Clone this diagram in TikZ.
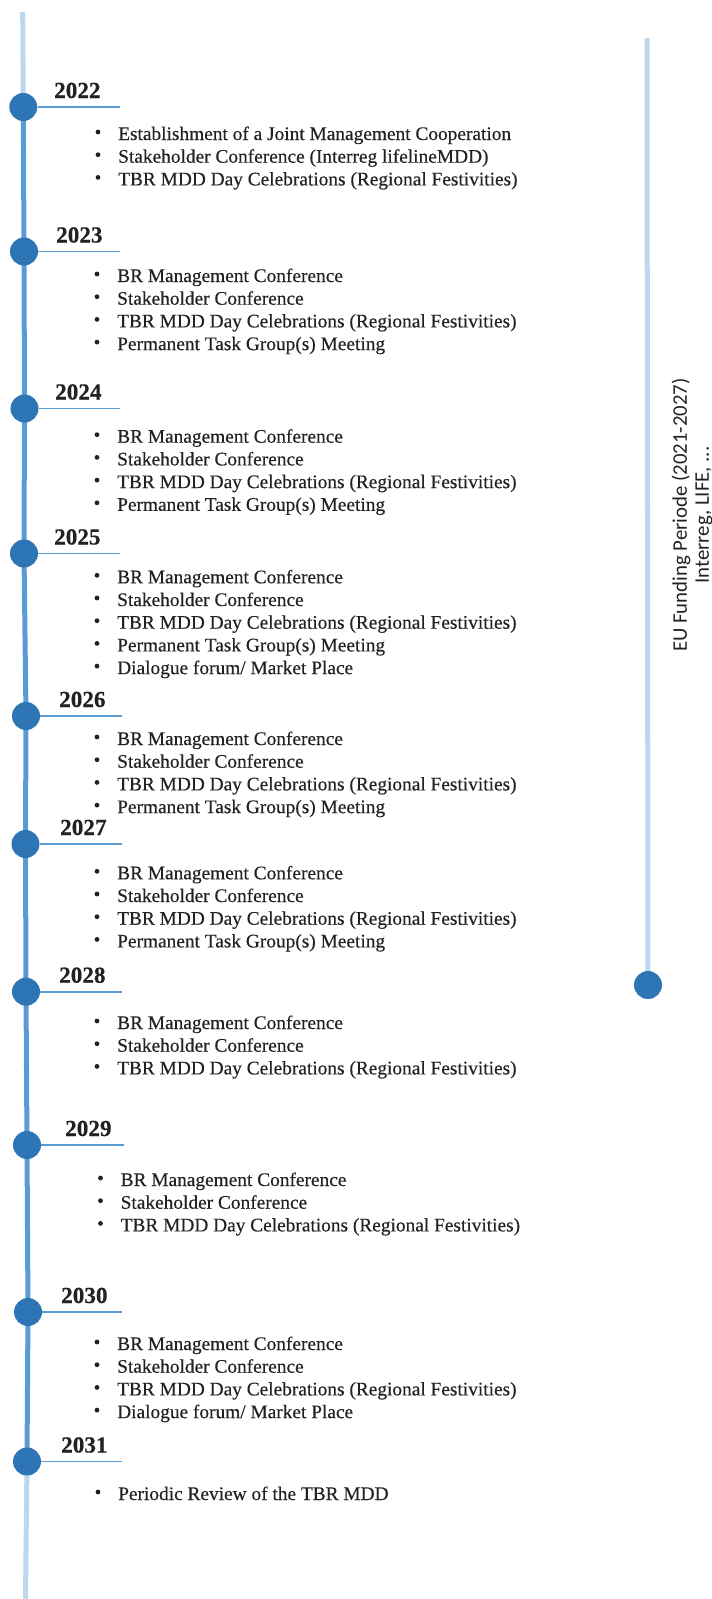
\documentclass[tikz,border=0pt]{standalone}
\usepackage{fontspec}
\setmainfont{Liberation Serif}[FakeStretch=1.008,FakeBold=0.4]
\newfontfamily\sidefont{Carlito}
\usetikzlibrary{backgrounds}
\definecolor{tlLight}{HTML}{BDD7EE}
\definecolor{tlMid}{HTML}{5B9BD5}
\definecolor{tlDark}{HTML}{2E75B6}
\definecolor{txt}{HTML}{222222}
\tikzset{
  dot/.style={circle, fill=tlDark, minimum size=28pt, inner sep=0pt},
  yearlbl/.style={anchor=base west, inner sep=0pt, font=\fontsize{23}{25}\selectfont\bfseries, text=txt},
  itemlbl/.style={anchor=base west, inner sep=0pt, font=\fontsize{19.2}{22.7}\selectfont, text=txt},
  tick/.style={draw=tlMid, line width=1.6pt},
  spine/.style={line width=5pt},
  bulletdot/.style={fill=txt},
}
% #1 year, #2 cx, #3 cy, #4 year x, #5 tick end x, #6 text x, #7 first baseline, #8 items
\newcommand\tlentry[8]{%
  \node[dot] (c#1) at (#2,#3) {};
  \coordinate (e#1) at (#5,#3);
  \draw[tick] (c#1.east) -- (e#1);
  \node[yearlbl] (y#1) at (#4,#3-9) {#1};
  \foreach \t [count=\i from 0] in {#8} {
    \fill[bulletdot] (#6-20,#7+\i*22.7-8) circle (2.4pt);
    \node[itemlbl] (i#1-\i) at (#6,#7+\i*22.7) {\t};
  }
}
\begin{document}
\begin{tikzpicture}[x=1pt,y=-1pt]
\useasboundingbox (0,0) rectangle (712,1599);
\coordinate (top) at (22.7,12);
\coordinate (bot) at (25.5,1599);
\coordinate (rtop) at (647,38);

\tlentry{2022}{23.3}{107}{54}{120}{118}{140}{Establishment of a Joint Management Cooperation,Stakeholder Conference (Interreg lifelineMDD),TBR MDD Day Celebrations (Regional Festivities)}
\tlentry{2023}{24}{251.5}{56}{120}{117}{282}{BR Management Conference,Stakeholder Conference,TBR MDD Day Celebrations (Regional Festivities),Permanent Task Group(s) Meeting}
\tlentry{2024}{24.5}{408.5}{55}{120}{117}{442.7}{BR Management Conference,Stakeholder Conference,TBR MDD Day Celebrations (Regional Festivities),Permanent Task Group(s) Meeting}
\tlentry{2025}{24}{553.5}{54}{120}{117}{583.3}{BR Management Conference,Stakeholder Conference,TBR MDD Day Celebrations (Regional Festivities),Permanent Task Group(s) Meeting,Dialogue forum/ Market Place}
\tlentry{2026}{26}{716}{59}{122}{117}{745}{BR Management Conference,Stakeholder Conference,TBR MDD Day Celebrations (Regional Festivities),Permanent Task Group(s) Meeting}
\tlentry{2027}{25.5}{844}{60}{122}{117}{879.3}{BR Management Conference,Stakeholder Conference,TBR MDD Day Celebrations (Regional Festivities),Permanent Task Group(s) Meeting}
\tlentry{2028}{26}{991.7}{59}{122}{117}{1029}{BR Management Conference,Stakeholder Conference,TBR MDD Day Celebrations (Regional Festivities)}
\tlentry{2029}{27}{1145}{65}{124}{120.5}{1186}{BR Management Conference,Stakeholder Conference,TBR MDD Day Celebrations (Regional Festivities)}
\tlentry{2030}{28}{1312}{61}{122}{117}{1350}{BR Management Conference,Stakeholder Conference,TBR MDD Day Celebrations (Regional Festivities),Dialogue forum/ Market Place}
\tlentry{2031}{27}{1461.5}{61}{122}{118}{1500}{Periodic Review of the TBR MDD}

\node[dot] (rend) at (648,985) {};
\node[rotate=90, inner sep=0pt, align=center, text=txt, font=\sidefont\fontsize{20.8}{22}\selectfont] (eu) at (692,515) {EU Funding Periode (2021-2027)\\Interreg, LIFE, ...};

\begin{scope}[on background layer]
  \draw[spine, tlLight] (top) -- (c2022.center);
  \draw[spine, tlMid] (c2022.center) -- (c2023.center) -- (c2024.center) -- (c2025.center) -- (c2026.center) -- (c2027.center) -- (c2028.center) -- (c2029.center) -- (c2030.center) -- (c2031.center);
  \draw[spine, tlLight] (c2031.center) -- (bot);
  \draw[spine, tlLight] (rtop) -- (rend.center);
\end{scope}
\end{tikzpicture}
\end{document}
